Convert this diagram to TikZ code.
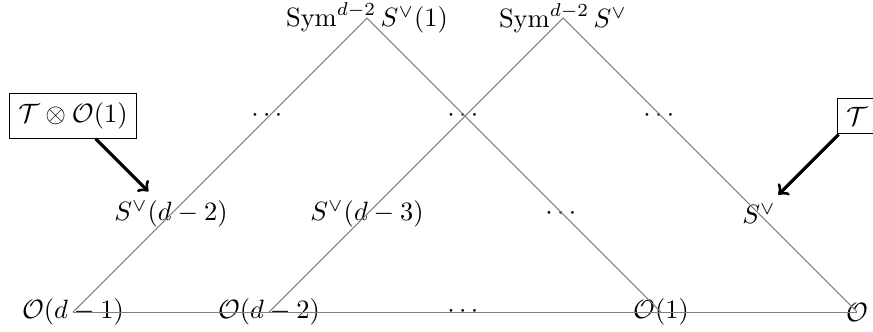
\documentclass[tikz,border=0pt]{standalone}
\usepackage{amsmath}
\usepackage{tikz}

\begin{document}
\begin{tikzpicture}[x=1.3cm, y=1.3cm]
	\tikzset{grid line/.style={gray, thin}, hint/.style={draw, fill=white}}
	\useasboundingbox (-0.745, -0.194) rectangle (8.163, 3.184);
	% bottom row
	\node (o1) at (0, 0) {$\mathcal{O}(d-1)$};
	\node (o2) at (2, 0) {$\mathcal{O}(d-2)$};
	\node (od) at (4, 0) {$\cdots$};
	\node (o3) at (6, 0) {$\mathcal{O}(1)$};
	\node (o4) at (8, 0) {$\mathcal{O}$};
	% middle rows
	\node (s1) at (1, 1) {$S^\vee(d-2)$};
	\node (s2) at (3, 1) {$S^\vee(d-3)$};
	\node (sd) at (5, 1) {$\cdots$};
	\node (s3) at (7, 1) {$S^\vee$};
	\node (d1) at (2, 2) {$\cdots$};
	\node (d2) at (4, 2) {$\cdots$};
	\node (d3) at (6, 2) {$\cdots$};
	% tops
	\node (t1) at (3, 3) {$\operatorname{Sym}^{d-2} S^\vee(1)$};
	\node (t2) at (5, 3) {$\operatorname{Sym}^{d-2} S^\vee$};
	\draw [grid line] (o1.center) -- (t1.center) -- (o3.center);
	\draw [grid line] (o2.center) -- (t2.center) -- (o4.center);
	\draw [grid line] (o1.center) -- (o4.center);
	% boxed hints
	\node [hint] (b1) at (0, 2) {$\mathcal{T} \otimes \mathcal{O}(1)$};
	\node [hint] (b2) at (8, 2) {$\mathcal{T}$};
	\draw [->, very thick] (b1) -- (s1);
	\draw [->, very thick] (b2) -- (s3);
\end{tikzpicture}
\end{document}
